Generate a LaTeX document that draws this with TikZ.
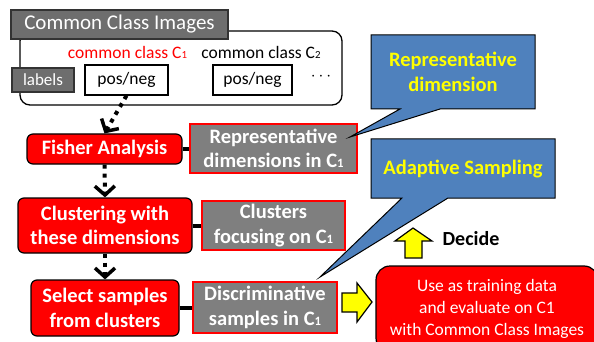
\documentclass[tikz,border=0pt]{standalone}
\usepackage{fontspec}
\setmainfont{Carlito}
\usetikzlibrary{arrows.meta}
\definecolor{hdrgray}{HTML}{6E6E6E}
\definecolor{boxgray}{HTML}{7F7F7F}
\definecolor{callblue}{HTML}{4F81BD}
\definecolor{pred}{HTML}{FF0000}
\definecolor{pyellow}{HTML}{FFFF00}
\newcommand{\sone}{\scalebox{0.62}{1}}
\newcommand{\stwo}{\scalebox{0.62}{2}}
\tikzset{
  bigbold/.style={font=\bfseries\fontsize{20.5}{24.5}\selectfont},
  redbox/.style={draw=black, line width=1.2pt, fill=pred, rounded corners=6pt, text=white, bigbold, align=center, inner sep=0pt},
  graybox/.style={draw=pred, line width=1.2pt, fill=boxgray, text=white, bigbold, align=center, inner sep=0pt},
  smallbox/.style={draw=black, line width=1.2pt, fill=white, inner sep=0pt, font=\fontsize{17.5}{21}\selectfont},
  dotarrow/.style={line width=4pt, dash pattern=on 4pt off 5pt, -{Straight Barb[length=9pt,width=20pt,line width=3.5pt]}},
  conn/.style={line width=4pt},
  callout/.style={draw=black, line width=1pt, fill=callblue},
  calltext/.style={text=pyellow, bigbold, align=center},
  blockarrow/.style={draw=black, line width=1.2pt, fill=pyellow, line join=miter}
}
\begin{document}
\begin{tikzpicture}[x=1pt,y=-1pt]
\useasboundingbox (0,0) rectangle (594,342);
% top container
\node[draw=black, line width=1.3pt, fill=white, rounded corners=10pt, minimum width=322pt, minimum height=74pt, inner sep=0pt] (cont) at (181,68) {};
\node[draw=black!80, line width=1.2pt, fill=hdrgray, text=white, minimum width=217pt, minimum height=29pt, inner sep=0pt, font=\fontsize{21}{25}\selectfont] (hdr) at (119.5,24.5) {Common Class Images};
\node[text=pred, font=\fontsize{17.5}{21}\selectfont, inner sep=0pt] (c1) at (127.5,52) {common class C\sone};
\node[text=black, font=\fontsize{17.5}{21}\selectfont, inner sep=0pt] (c2) at (261,52) {common class C\stwo};
\node[draw=black!80, line width=1.2pt, fill=hdrgray, text=white, minimum width=62pt, minimum height=24pt, inner sep=0pt, font=\fontsize{17}{20}\selectfont] (lab) at (43,80) {labels};
\node[smallbox, minimum width=83pt, minimum height=30pt] (pn1) at (126.5,80) {pos/neg};
\node[smallbox, minimum width=79pt, minimum height=30pt] (pn2) at (252.5,80) {pos/neg};
\node[inner sep=0pt, font=\fontsize{17}{20}\selectfont] (dots) at (321,77) {$\cdots$};
% left column
\node[redbox, minimum width=155pt, minimum height=30pt] (fisher) at (104.5,149) {Fisher Analysis};
\node[graybox, minimum width=167pt, minimum height=49pt] (repdim) at (273.5,148.5) {Representative\\dimensions in C\sone};
\node[redbox, minimum width=174pt, minimum height=55pt] (clust) at (105,225.5) {Clustering with\\these dimensions};
\node[graybox, minimum width=143pt, minimum height=49pt] (clfoc) at (273.5,225.5) {Clusters\\focusing on C\sone};
\node[redbox, minimum width=148pt, minimum height=56pt] (select) at (105,308) {Select samples\\from clusters};
\node[graybox, minimum width=144pt, minimum height=51pt] (discr) at (265,307.5) {Discriminative\\samples in C\sone};
\draw[conn] (fisher.east) -- (fisher.east -| repdim.west);
\draw[conn] (clust.east) -- (clust.east -| clfoc.west);
\draw[conn] (select.east) -- (select.east -| discr.west);
\draw[dotarrow] (pn1.south) -- (fisher.north);
\draw[dotarrow] (fisher.south) -- (clust.north);
\draw[dotarrow] (clust.south) -- (select.north);
% callouts
\coordinate (tip1) at (350,137);
\coordinate (tip2) at (320,277);
\draw[callout] (371,35) -- (535,35) -- (535,109) -- (440,109) -- (tip1) -- (400,109) -- (371,109) -- cycle;
\node[calltext] (ct1) at (453,72) {Representative\\dimension};
\draw[callout] (371,139) -- (555,139) -- (555,198) -- (448,198) -- (tip2) -- (402,198) -- (371,198) -- cycle;
\node[calltext] (ct2) at (463,169) {Adaptive Sampling};
% yellow arrows
\draw[blockarrow] (413,228) -- (432,241) -- (422,241) -- (422,258) -- (405,258) -- (405,241) -- (395,241) -- cycle;
\node[bigbold, font=\bfseries\fontsize{20}{24}\selectfont, inner sep=0pt] (decide) at (471,239) {Decide};
\draw[blockarrow] (342,293) -- (357,293) -- (357,283) -- (372,302) -- (357,322) -- (357,312) -- (342,312) -- cycle;
% result box
\node[draw=black, line width=1.2pt, fill=pred, rounded corners=14pt, text=white, align=center, minimum width=222pt, minimum height=86pt, inner sep=0pt, font=\fontsize{17.5}{22}\selectfont] (use) at (487,309) {Use as training data\\and evaluate on C1\\with Common Class Images};
\end{tikzpicture}
\end{document}
